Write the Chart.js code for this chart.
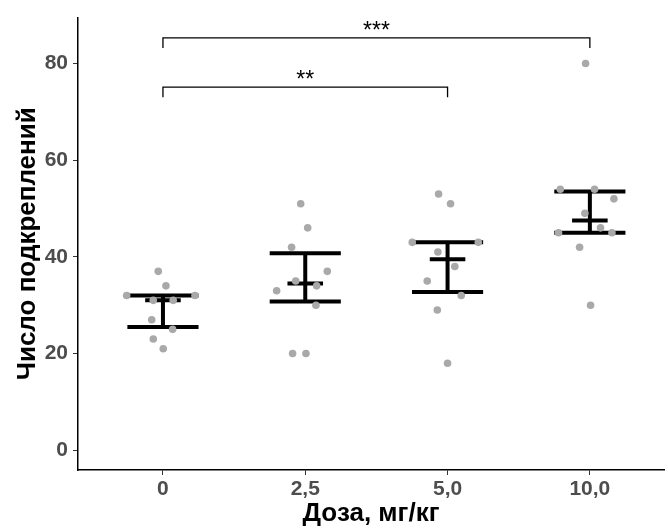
<!DOCTYPE html>
<html>
<head>
<meta charset="utf-8">
<script src="https://cdn.jsdelivr.net/npm/chart.js@4.4.1/dist/chart.umd.min.js"></script>
<style>
  body { margin: 0; background: #fff; overflow: hidden; }
  #wrap { width: 668px; height: 529px; position: relative; }
</style>
</head>
<body>
<div id="wrap"><canvas id="doseChart"></canvas></div>
<script>
// дозы и значения (читаются с картинки)
const doses = ["0", "2,5", "5,0", "10,0"];
const yTicks = [0, 20, 40, 60, 80];

const vals0 = [37, 34, 32, 32, 31, 31, 27, 25, 23, 21];
const vals1 = [51, 46, 42, 37, 35, 34, 33, 30, 20, 20];
const vals2 = [53, 51, 43, 43, 41, 38, 35, 32, 29, 18];
const vals3 = [80, 54, 54, 52, 49, 46, 45, 45, 42, 30];

// горизонтальный разброс точек (jitter), в долях шага категории
const jit0 = [-0.033, 0.021, -0.255, 0.225, -0.068, 0.072, -0.079, 0.068, -0.068, 0.002];
const jit1 = [-0.032, 0.017, -0.096, 0.155, -0.067, 0.080, -0.201, 0.075, -0.089, 0.005];
const jit2 = [-0.063, 0.021, -0.248, 0.216, -0.068, 0.051, -0.143, 0.096, -0.072, 0.0];
const jit3 = [-0.030, -0.208, 0.033, 0.169, -0.035, 0.075, -0.220, 0.155, -0.072, 0.005];

// медиана и квартили
const medians = [31, 34.5, 39.5, 47.5];
const q1 = [25.5, 30.75, 32.75, 45];
const q3 = [32, 40.75, 43, 53.5];

// скобки значимости
const brFrom = [0, 0];
const brTo = [2, 3];
const brY = [75.1, 85.3];
const brTip = [73.0, 83.2];
const brLabel = ["**", "***"];

const allVals = [vals0, vals1, vals2, vals3];
const allJit = [jit0, jit1, jit2, jit3];

const pts = [];
allVals.forEach((arr, i) => {
  arr.forEach((v, k) => pts.push({ x: i + allJit[i][k], y: v }));
});

const capW = 0.25, medW = 0.125;
const barPts = [];
doses.forEach((d, i) => {
  barPts.push({ x: i, y: q1[i] }, { x: i, y: q3[i] }, { x: i, y: null });
  barPts.push({ x: i - capW, y: q3[i] }, { x: i + capW, y: q3[i] }, { x: i, y: null });
  barPts.push({ x: i - capW, y: q1[i] }, { x: i + capW, y: q1[i] }, { x: i, y: null });
  barPts.push({ x: i - medW, y: medians[i] }, { x: i + medW, y: medians[i] }, { x: i, y: null });
});

const brPts = [];
brFrom.forEach((a, j) => {
  const b = brTo[j];
  brPts.push({ x: a, y: brTip[j] }, { x: a, y: brY[j] }, { x: b, y: brY[j] }, { x: b, y: brTip[j] }, { x: b, y: null });
});

const starsPlugin = {
  id: "stars",
  afterDatasetsDraw(chart) {
    const { ctx, scales: { x, y } } = chart;
    ctx.save();
    ctx.font = "23px 'Liberation Sans', Arial, sans-serif";
    ctx.fillStyle = "#000";
    ctx.textAlign = "center";
    ctx.textBaseline = "alphabetic";
    brLabel.forEach((lab, j) => {
      const px = (x.getPixelForValue(brFrom[j]) + x.getPixelForValue(brTo[j])) / 2;
      const py = y.getPixelForValue(brY[j]);
      ctx.fillText(lab, px, py);
    });
    ctx.restore();
  }
};

const tickFont = { family: "'Liberation Sans', Arial, sans-serif", size: 21, weight: "bold" };
const titleFont = { family: "'Liberation Sans', Arial, sans-serif", size: 26, weight: "bold" };

new Chart(document.getElementById("doseChart"), {
  type: "scatter",
  data: {
    datasets: [
      {
        data: pts,
        pointRadius: 3.8,
        pointBackgroundColor: "#a9a9a9",
        pointBorderWidth: 0,
        order: 0
      },
      {
        data: barPts,
        showLine: true,
        spanGaps: false,
        borderColor: "#000",
        borderWidth: 4,
        borderCapStyle: "butt",
        pointRadius: 0,
        order: 1
      },
      {
        data: brPts,
        showLine: true,
        spanGaps: false,
        borderColor: "#000",
        borderWidth: 1.3,
        pointRadius: 0,
        order: 2
      }
    ]
  },
  options: {
    responsive: true,
    maintainAspectRatio: false,
    animation: false,
    layout: { padding: { top: 15, right: 0, left: 0, bottom: 0 } },
    plugins: {
      legend: { display: false },
      tooltip: { enabled: false }
    },
    scales: {
      x: {
        type: "linear",
        min: -0.597,
        max: 3.521,
        afterBuildTicks: (s) => { s.ticks = doses.map((d, i) => ({ value: i })); },
        afterFit: (s) => { s.height = 59; },
        ticks: {
          callback: (v) => doses[v],
          font: tickFont,
          color: "#4d4d4d",
          padding: 2,
          maxRotation: 0
        },
        grid: { drawOnChartArea: false, drawTicks: true, tickLength: 5, tickColor: "#333" },
        border: { display: true, color: "#000", width: 1.5 },
        title: { display: true, text: "Доза, мг/кг", font: titleFont, color: "#000", padding: { top: 0, bottom: 0 } }
      },
      y: {
        min: -4.1,
        max: 89.5,
        afterBuildTicks: (s) => { s.ticks = yTicks.map((v) => ({ value: v })); },
        afterFit: (s) => { s.width = 78; },
        ticks: { font: tickFont, color: "#4d4d4d", padding: 5 },
        grid: { drawOnChartArea: false, drawTicks: true, tickLength: 5, tickColor: "#333" },
        border: { display: true, color: "#000", width: 1.5 },
        title: { display: true, text: "Число подкреплений", font: titleFont, color: "#000", padding: { top: 12, bottom: 0 } }
      }
    }
  },
  plugins: [starsPlugin]
});
</script>
</body>
</html>
